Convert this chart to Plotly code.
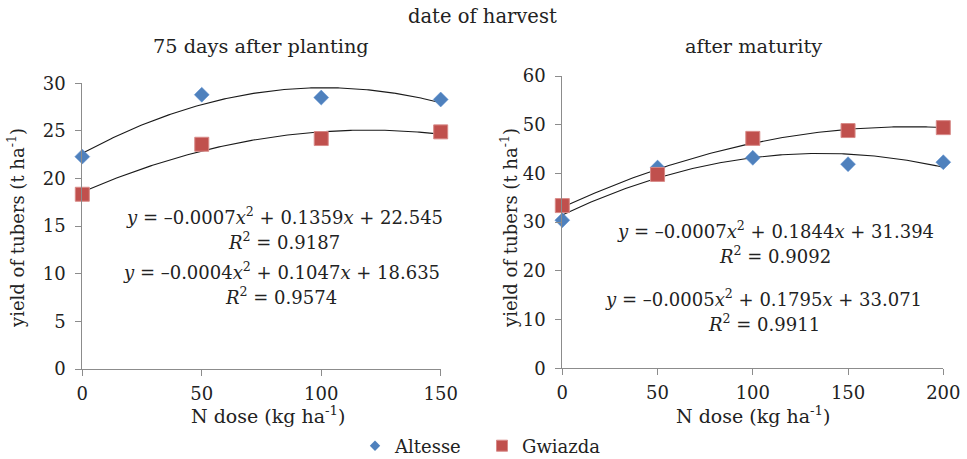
import numpy as np
import plotly.graph_objects as go
from plotly.subplots import make_subplots

# ---- data ----
doses_early = [0, 50, 100, 150]
altesse_early = [22.3, 28.8, 28.5, 28.3]
gwiazda_early = [18.35, 23.6, 24.2, 24.9]

doses_mature = [0, 50, 100, 150, 200]
altesse_mature = [30.4, 41.2, 43.2, 41.9, 42.3]
gwiazda_mature = [33.4, 39.8, 47.2, 48.8, 49.4]

eq_texts_early = [
    ("<i>y</i> = –0.0007<i>x</i><sup>2</sup> + 0.1359<i>x</i> + 22.545", "<i>R</i><sup>2</sup> = 0.9187"),
    ("<i>y</i> = –0.0004<i>x</i><sup>2</sup> + 0.1047<i>x</i> + 18.635", "<i>R</i><sup>2</sup> = 0.9574"),
]
eq_texts_mature = [
    ("<i>y</i> = –0.0007<i>x</i><sup>2</sup> + 0.1844<i>x</i> + 31.394", "<i>R</i><sup>2</sup> = 0.9092"),
    ("<i>y</i> = –0.0005<i>x</i><sup>2</sup> + 0.1795<i>x</i> + 33.071", "<i>R</i><sup>2</sup> = 0.9911"),
]

FONT = "DejaVu Serif"
TXT = "#222222"
BLUE = "#4F81BD"
RED = "#C0504D"
W, H = 967, 459

fig = make_subplots(rows=1, cols=2)


def add_panel(col, xs, alt, gw, xmax):
    xx = np.linspace(0, xmax, 200)
    for ys in (alt, gw):
        c = np.polyfit(xs, ys, 2)  # quadratic trendline fitted to the data
        fig.add_trace(go.Scatter(x=xx, y=np.polyval(c, xx), mode="lines",
                                 line=dict(color="#1a1a1a", width=1.1),
                                 showlegend=False, hoverinfo="skip"), row=1, col=col)
    fig.add_trace(go.Scatter(x=xs, y=alt, mode="markers", name="Altesse",
                             marker=dict(symbol="diamond", size=11.5, color=BLUE,
                                         line=dict(color="#5B8FD0", width=0.5)),
                             showlegend=False, cliponaxis=False), row=1, col=col)
    fig.add_trace(go.Scatter(x=xs, y=gw, mode="markers", name="Gwiazda",
                             marker=dict(symbol="square", size=14, color=RED,
                                         line=dict(color="#D88A88", width=1)),
                             showlegend=False, cliponaxis=False), row=1, col=col)


add_panel(1, doses_early, altesse_early, gwiazda_early, 150)
add_panel(2, doses_mature, altesse_mature, gwiazda_mature, 200)

# legend entries (smaller symbols, as in the reference legend)
fig.add_trace(go.Scatter(x=[None], y=[None], mode="markers", name="Altesse",
                         marker=dict(symbol="diamond", size=8, color=BLUE)), row=1, col=1)
fig.add_trace(go.Scatter(x=[None], y=[None], mode="markers", name="Gwiazda",
                         marker=dict(symbol="square", size=11, color=RED,
                                     line=dict(color="#D88A88", width=1))), row=1, col=1)

axis_common = dict(showgrid=False, zeroline=False, showline=True, linecolor="#8c8c8c",
                   linewidth=1, ticks="outside", tickcolor="#8c8c8c", ticklen=6,
                   automargin=False,
                   tickfont=dict(family=FONT, size=18, color=TXT))

fig.update_xaxes(axis_common, ticklabelstandoff=2)
fig.update_yaxes(axis_common, ticklabelstandoff=6)

fig.update_layout(
    template="none",
    xaxis=dict(domain=[82.3 / W, 440.7 / W], range=[0, 150], tickvals=[0, 50, 100, 150]),
    yaxis=dict(domain=[1 - 369 / H, 1 - 83.3 / H], range=[0, 30], tickvals=[0, 5, 10, 15, 20, 25, 30]),
    xaxis2=dict(domain=[562.3 / W, 943.3 / W], range=[0, 200], tickvals=[0, 50, 100, 150, 200]),
    yaxis2=dict(domain=[1 - 368.3 / H, 1 - 76 / H], range=[0, 60], tickvals=[0, 10, 20, 30, 40, 50, 60]),
)


def ann(x, y, text, size=18, angle=0):
    fig.add_annotation(x=x / W, y=1 - y / H, xref="paper", yref="paper", text=text,
                       showarrow=False, textangle=angle, xanchor="center", yanchor="middle",
                       font=dict(family=FONT, size=size, color=TXT))


ann(482, 16, "date of harvest", 19.5)
ann(261, 46, "75 days after planting", 19.3)
ann(753, 46, "after maturity", 19.3)
ann(268, 415, "N dose (kg ha<sup>-1</sup>)", 19)
ann(753, 415, "N dose (kg ha<sup>-1</sup>)", 19)
ann(16, 228, "yield of tubers (t ha<sup>-1</sup>)", 18, -90)
ann(509, 228, "yield of tubers (t ha<sup>-1</sup>)", 18, -90)

# equation labels
ann(284, 216, eq_texts_early[0][0])
ann(284, 241, eq_texts_early[0][1])
ann(281, 271, eq_texts_early[1][0])
ann(281, 296, eq_texts_early[1][1])
ann(775, 230, eq_texts_mature[0][0])
ann(775, 255, eq_texts_mature[0][1])
ann(763, 298, eq_texts_mature[1][0])
ann(764, 323, eq_texts_mature[1][1])

fig.update_layout(
    width=W, height=H, margin=dict(l=0, r=0, t=0, b=0, autoexpand=False),
    paper_bgcolor="white", plot_bgcolor="white",
    font=dict(family=FONT, size=18, color=TXT),
    legend=dict(orientation="h", x=355 / W, xanchor="left", y=1 - 446 / H, yanchor="middle",
                font=dict(family=FONT, size=18, color=TXT), itemsizing="trace",
                entrywidth=82, entrywidthmode="pixels", tracegroupgap=0,
                bgcolor="rgba(0,0,0,0)"),
)

fig.write_html("out.html", config={"displayModeBar": False},
               post_script="document.body.style.margin='0';document.body.style.overflow='hidden';")
